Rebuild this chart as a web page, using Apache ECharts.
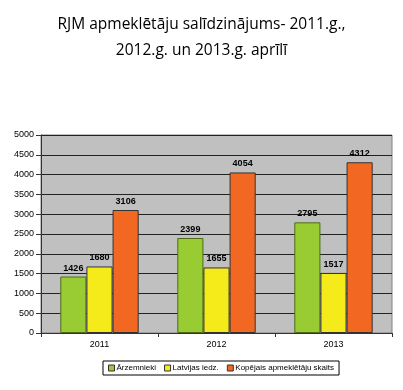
<!DOCTYPE html>
<html><head><meta charset="utf-8">
<script src="https://cdn.jsdelivr.net/npm/echarts@6/dist/echarts.min.js"></script>
<style>html,body{margin:0;padding:0;background:#fff}#c{width:403px;height:390px}</style>
</head><body><div id="c"></div>
<script>
const categories = ['2011', '2012', '2013'];
const seriesNames = ['Ārzemnieki', 'Latvijas iedz.', 'Kopējais apmeklētāju skaits'];
const arzemnieki = [1426, 2399, 2795];
const latvijas = [1680, 1655, 1517];
const kopejais = [3106, 4054, 4312];
const colors = ['#99CC33', '#F5EB1A', '#F26722'];
const borders = ['#4d6b1a', '#333333', '#333333'];

const chart = echarts.init(document.getElementById('c'), null, {renderer: 'canvas'});
const data = [arzemnieki, latvijas, kopejais];
chart.setOption({
  animation: false,
  title: {
    text: 'RJM apmeklētāju salīdzinājums- 2011.g.,\n2012.g. un 2013.g. aprīlī',
    left: 'center', top: 7,
    textStyle: {fontFamily: 'Open Sans', fontWeight: 'normal', fontSize: 15.5, lineHeight: 26, color: '#000'}
  },
  grid: {left: 41, right: 11, top: 135, bottom: 57, show: true, backgroundColor: '#C0C0C0', borderColor: '#808080', borderWidth: 1},
  legend: {
    left: 103, top: 361, padding: [3, 5], borderColor: '#000', borderWidth: 1, backgroundColor: '#fff',
    itemWidth: 6, itemHeight: 6, itemGap: 8, icon: 'rect',
    textStyle: {fontFamily: 'Liberation Sans', fontSize: 8, color: '#000', padding: [0, 0, 0, -3]},
    data: seriesNames.map((n, i) => ({name: n, itemStyle: {color: colors[i], borderColor: '#333', borderWidth: 1}}))
  },
  xAxis: {
    type: 'category', data: categories,
    axisLine: {lineStyle: {color: '#333'}},
    axisTick: {show: true, alignWithLabel: false, length: 4, lineStyle: {color: '#333'}},
    axisLabel: {fontFamily: 'Liberation Sans', fontSize: 9, color: '#000', margin: 7}
  },
  yAxis: {
    type: 'value', min: 0, max: 5000, interval: 500,
    axisLine: {show: true, lineStyle: {color: '#333'}},
    axisTick: {show: true, length: 5, lineStyle: {color: '#333'}},
    axisLabel: {fontFamily: 'Liberation Sans', fontSize: 9, color: '#000', margin: 7, formatter: v => String(v)},
    splitLine: {lineStyle: {color: '#222', width: 1}}
  },
  series: data.map((d, i) => ({
    name: seriesNames[i], type: 'bar', data: d,
    barGap: '0%', barCategoryGap: '33%',
    itemStyle: {color: colors[i], borderColor: borders[i], borderWidth: 1},
    label: {show: true, position: 'top', distance: 4, fontFamily: 'Liberation Sans', fontWeight: 'bold', fontSize: 9, color: '#000'}
  }))
});
</script></body></html>
